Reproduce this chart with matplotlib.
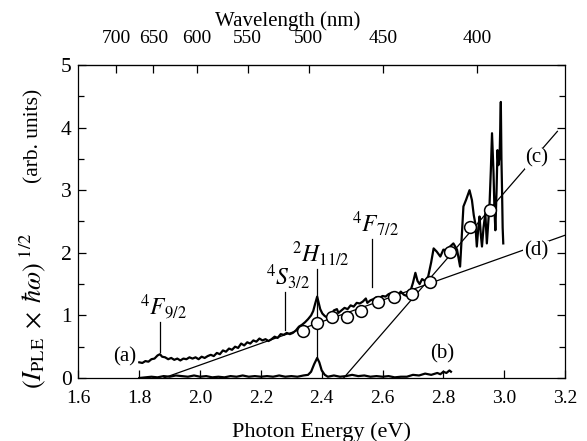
import matplotlib
matplotlib.use("Agg")
import matplotlib.pyplot as plt
import numpy as np

plt.rcParams['font.family'] = ['Liberation Serif', 'DejaVu Serif']
plt.rcParams['mathtext.fontset'] = 'stix'

# ---- data ----
energy_a = [1.800, 1.810, 1.820, 1.830, 1.840, 1.850, 1.860, 1.868, 1.875, 1.885,
            1.895, 1.905, 1.915, 1.925, 1.935, 1.945, 1.955, 1.965, 1.975, 1.985,
            1.995, 2.005, 2.015, 2.025, 2.035, 2.045, 2.055, 2.065, 2.075, 2.085,
            2.095, 2.105, 2.115, 2.125, 2.135, 2.145, 2.155, 2.165, 2.175, 2.185,
            2.195, 2.205, 2.215, 2.225, 2.235, 2.245, 2.255, 2.265, 2.275, 2.285,
            2.295, 2.305, 2.315, 2.325, 2.335, 2.345, 2.355, 2.365, 2.372, 2.378,
            2.385, 2.390, 2.395, 2.402, 2.410, 2.420, 2.430, 2.440, 2.450, 2.455,
            2.465, 2.475, 2.485, 2.495, 2.505, 2.515, 2.525, 2.535, 2.545, 2.550,
            2.560, 2.570, 2.580, 2.590, 2.600, 2.610, 2.620, 2.630, 2.640, 2.650,
            2.660, 2.670, 2.680, 2.690, 2.700, 2.708, 2.715, 2.722, 2.730, 2.740,
            2.750, 2.760, 2.768, 2.778, 2.790, 2.800, 2.812, 2.822, 2.833, 2.845,
            2.855, 2.862, 2.866, 2.875, 2.886, 2.894, 2.900, 2.905, 2.910, 2.915,
            2.919, 2.923, 2.927, 2.932, 2.938, 2.943, 2.948, 2.952, 2.956, 2.960,
            2.963, 2.965, 2.968, 2.971, 2.975, 2.978, 2.981, 2.985, 2.987, 2.989,
            2.991, 2.993, 2.995, 2.997]
signal_a = [0.25, 0.24, 0.27, 0.26, 0.30, 0.31, 0.36, 0.38, 0.34, 0.33,
            0.30, 0.32, 0.29, 0.31, 0.28, 0.31, 0.30, 0.33, 0.31, 0.33,
            0.30, 0.34, 0.32, 0.35, 0.37, 0.35, 0.40, 0.38, 0.44, 0.42,
            0.47, 0.45, 0.50, 0.48, 0.55, 0.52, 0.57, 0.55, 0.60, 0.58,
            0.63, 0.60, 0.62, 0.59, 0.62, 0.66, 0.64, 0.70, 0.69, 0.72,
            0.70, 0.72, 0.76, 0.82, 0.85, 0.89, 0.94, 1.00, 1.07, 1.18,
            1.30, 1.20, 1.10, 1.03, 0.99, 0.96, 1.00, 1.08, 1.10, 1.04,
            1.08, 1.12, 1.10, 1.16, 1.14, 1.20, 1.19, 1.22, 1.27, 1.20,
            1.24, 1.26, 1.29, 1.28, 1.31, 1.30, 1.34, 1.36, 1.33, 1.32,
            1.38, 1.33, 1.31, 1.36, 1.52, 1.68, 1.55, 1.50, 1.58, 1.55,
            1.62, 1.85, 2.07, 2.02, 1.94, 2.05, 2.04, 2.10, 2.15, 2.05,
            1.78, 2.40, 2.74, 2.85, 3.00, 2.84, 2.60, 2.47, 2.10, 2.40,
            2.58, 2.30, 2.10, 2.40, 2.63, 2.15, 2.50, 2.79, 3.30, 3.91,
            3.50, 3.27, 2.70, 2.36, 3.00, 3.64, 3.40, 3.54, 4.00, 4.41,
            3.50, 3.00, 2.40, 2.15]

energy_b = [1.800, 1.820, 1.840, 1.860, 1.880, 1.900, 1.920, 1.940, 1.960, 1.980,
            2.000, 2.020, 2.040, 2.060, 2.080, 2.100, 2.120, 2.140, 2.160, 2.180,
            2.200, 2.220, 2.240, 2.260, 2.280, 2.300, 2.320, 2.340, 2.355, 2.365,
            2.375, 2.385, 2.392, 2.400, 2.410, 2.420, 2.440, 2.460, 2.480, 2.500,
            2.520, 2.540, 2.560, 2.580, 2.600, 2.620, 2.640, 2.660, 2.680, 2.700,
            2.720, 2.740, 2.760, 2.780, 2.790, 2.800, 2.810, 2.820, 2.825]
signal_b = [0.00, 0.01, 0.02, 0.01, 0.03, 0.02, 0.04, 0.03, 0.02, 0.04,
            0.02, 0.03, 0.01, 0.02, 0.01, 0.03, 0.02, 0.04, 0.02, 0.03,
            0.02, 0.03, 0.02, 0.04, 0.02, 0.03, 0.02, 0.04, 0.05, 0.10,
            0.22, 0.32, 0.25, 0.12, 0.05, 0.02, 0.04, 0.02, 0.03, 0.05,
            0.03, 0.04, 0.02, 0.03, 0.02, 0.03, 0.01, 0.02, 0.02, 0.05,
            0.04, 0.07, 0.05, 0.08, 0.06, 0.10, 0.08, 0.12, 0.10]

circle_e = [2.340, 2.386, 2.435, 2.483, 2.530, 2.585, 2.639, 2.696, 2.757, 2.821, 2.886, 2.954]
circle_v = [0.756, 0.883, 0.970, 0.979, 1.075, 1.219, 1.289, 1.342, 1.529, 2.018, 2.417, 2.684]

fit_c_x = [2.472, 3.175]
fit_c_y = [0.0, 3.94]
fit_d_x = [1.88, 3.20]
fit_d_y = [0.0, 2.28]

wl_ticks = [700, 650, 600, 550, 500, 450, 400]
x_ticks = [1.6, 1.8, 2.0, 2.2, 2.4, 2.6, 2.8, 3.0, 3.2]
y_ticks = [0, 1, 2, 3, 4, 5]

# term labels: (text, x, line_top, line_bottom)
terms = [(r'$^{4}F_{9/2}$', 1.868, 0.90, 0.42),
         (r'$^{4}S_{3/2}$', 2.279, 1.38, 0.77),
         (r'$^{2}H_{11/2}$', 2.386, 1.74, 0.34),
         (r'$^{4}F_{7/2}$', 2.565, 2.22, 1.46)]

# ---- figure ----
fig = plt.figure(figsize=(5.87, 4.41), dpi=100)
ax = fig.add_axes([0.1337, 0.1429, 0.8288, 0.7097])

ax.plot(fit_d_x, fit_d_y, color='black', lw=0.9, zorder=2)
ax.plot(fit_c_x, fit_c_y, color='black', lw=0.9, zorder=2)
ax.plot(energy_a, signal_a, color='black', lw=1.6, zorder=3)
ax.plot(energy_b, signal_b, color='black', lw=1.6, zorder=3)
ax.plot(circle_e, circle_v, linestyle='none', marker='o', ms=8.5, mfc='white',
        mec='black', mew=1.1, zorder=4)

for txt, x, top, bot in terms:
    ax.plot([x, x], [bot, top], color='black', lw=0.9, zorder=2)
    ax.text(x + 0.012, top + 0.01, txt, ha='center', va='bottom', fontsize=17)

ax.text(1.752, 0.34, '(a)', ha='center', va='center', fontsize=15)
ax.text(2.795, 0.39, '(b)', ha='center', va='center', fontsize=15)
ax.text(3.108, 3.51, '(c)', ha='center', va='center', fontsize=15,
        bbox=dict(facecolor='white', edgecolor='none', pad=0.5), zorder=5)
ax.text(3.105, 2.03, '(d)', ha='center', va='center', fontsize=15,
        bbox=dict(facecolor='white', edgecolor='none', pad=0.5), zorder=5)

ax.set_xlim(1.6, 3.2)
ax.set_ylim(0, 5)
ax.set_xticks(x_ticks)
ax.set_xticklabels([f'{v:.1f}' for v in x_ticks])
ax.set_yticks(y_ticks)
ax.set_yticks(np.arange(0.5, 5, 1.0), minor=True)
ax.tick_params(axis='both', direction='in', length=6, width=0.9)
ax.tick_params(axis='x', labelsize=14, pad=9)
ax.tick_params(axis='y', labelsize=15.5, pad=5)
ax.tick_params(axis='y', which='both', right=True, direction='in')
ax.tick_params(axis='y', which='minor', length=4, width=0.9)
ax.tick_params(axis='x', which='both', top=False)
for s in ax.spines.values():
    s.set_linewidth(0.9)

ax.set_xlabel('Photon Energy (eV)', fontsize=16, labelpad=11)

# y label in two parts, as in the reference
ax.text(-0.094, 0.215, r'$(I_{\mathrm{PLE}}\;\times\;\hbar\omega)^{\;1/2}$',
        transform=ax.transAxes, rotation=90, ha='center', va='center', fontsize=19)
ax.text(-0.092, 0.773, '(arb. units)', transform=ax.transAxes, rotation=90,
        ha='center', va='center', fontsize=15.5)

sec = ax.secondary_xaxis('top', functions=(lambda e: 1106.0 / (np.asarray(e) - 0.145),
                                           lambda w: 1106.0 / np.asarray(w) + 0.145))
sec.set_xticks(wl_ticks)
sec.set_xticklabels([str(w) for w in wl_ticks])
sec.tick_params(direction='in', labelsize=14, length=6, width=0.9, pad=13)
fig.text(288 / 587, 1 - 21 / 441, 'Wavelength (nm)', ha='center', va='center', fontsize=15)

fig.savefig('out.png', dpi=100)
